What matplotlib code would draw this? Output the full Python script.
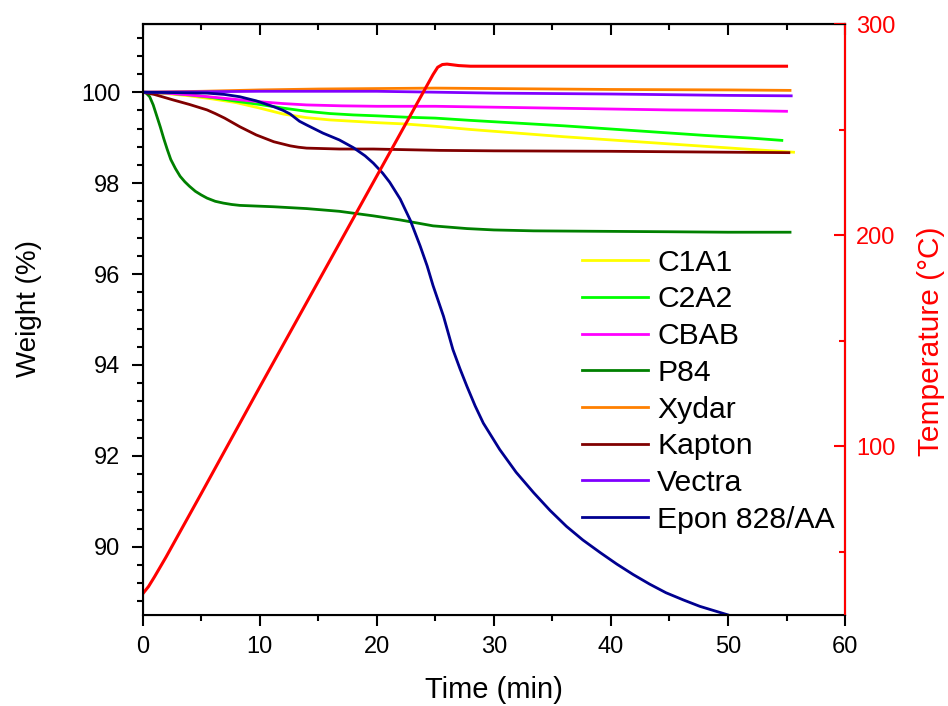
import numpy as np
import matplotlib
matplotlib.use("Agg")
import matplotlib.pyplot as plt
from matplotlib.ticker import MultipleLocator

plt.rcParams["font.family"] = ["Liberation Sans", "DejaVu Sans"]

# ---- data (time in min, weight in %) ---------------------------------------
t_c1a1 = [0, 2, 4, 6, 8, 10, 12, 14, 16, 18, 20, 22.5, 25, 28, 32, 36, 40, 44, 48, 52, 55.6]
w_c1a1 = [100, 99.97, 99.92, 99.85, 99.77, 99.65, 99.52, 99.44, 99.39, 99.36, 99.33,
          99.30, 99.25, 99.18, 99.10, 99.02, 98.95, 98.88, 98.81, 98.74, 98.68]

t_c2a2 = [0, 2, 4, 6, 8, 10, 12, 14, 16, 18, 20, 22.5, 25, 28, 32, 36, 40, 44, 48, 52, 54.6]
w_c2a2 = [100, 99.98, 99.94, 99.88, 99.80, 99.73, 99.65, 99.58, 99.53, 99.50, 99.48,
          99.45, 99.43, 99.38, 99.32, 99.26, 99.19, 99.12, 99.05, 98.99, 98.94]

t_cbab = [0, 2, 4, 6, 8, 10, 12, 14, 17, 20, 25, 30, 35, 40, 45, 50, 55]
w_cbab = [100, 99.98, 99.94, 99.89, 99.84, 99.79, 99.75, 99.72, 99.70, 99.69, 99.69,
          99.67, 99.65, 99.63, 99.61, 99.60, 99.58]

t_p84 = [0, 0.3, 0.6, 0.9, 1.2, 1.5, 1.8, 2.1, 2.4, 2.8, 3.2, 3.6, 4.0, 4.5, 5.0, 5.5,
         6.2, 6.9, 7.6, 8.3, 11.2, 14, 16.8, 19.7, 22, 24.8, 27.7, 30, 33.4, 39.1, 45,
         50, 55.3]
w_p84 = [100, 99.98, 99.9, 99.72, 99.48, 99.24, 98.98, 98.74, 98.52, 98.32, 98.15,
         98.03, 97.93, 97.82, 97.74, 97.67, 97.60, 97.56, 97.53, 97.51, 97.48, 97.44,
         97.38, 97.28, 97.19, 97.06, 97.00, 96.97, 96.95, 96.94, 96.93, 96.92, 96.92]

t_xydar = [0, 5, 10, 15, 20, 25, 30, 40, 50, 55.3]
w_xydar = [100, 100.02, 100.05, 100.07, 100.08, 100.09, 100.08, 100.06, 100.05, 100.04]

t_kapton = [0, 1, 2.6, 4, 5.5, 6.2, 7, 8.3, 9.7, 10.5, 11.2, 12.6, 13.3, 14, 16.8,
            19.7, 25.4, 30, 40, 50, 55.2]
w_kapton = [100, 99.95, 99.83, 99.73, 99.61, 99.53, 99.43, 99.24, 99.06, 98.98, 98.91,
            98.82, 98.79, 98.77, 98.75, 98.75, 98.72, 98.71, 98.70, 98.68, 98.67]

t_vectra = [0, 5, 10, 15, 20, 25, 30, 40, 50, 55.4]
w_vectra = [100, 100.01, 100.02, 100.02, 100.02, 100.0, 99.98, 99.96, 99.93, 99.92]

t_epon = [0, 3, 5.5, 7, 8.3, 9.7, 11.2, 12, 12.6, 13.4, 14, 15.4, 16.8, 18.0, 19.0,
          19.7, 20.5, 21.1, 22, 22.85, 23.7, 24.3, 24.8, 25.7, 26.5, 27.1, 27.7, 28.4,
          29.1, 30.5, 31.9, 33.4, 34.8, 36.2, 37.6, 39.1, 40.5, 41.9, 43.3, 44.7,
          46.2, 47.6, 49.9, 50.5]
w_epon = [100, 99.99, 99.98, 99.95, 99.90, 99.81, 99.68, 99.60, 99.52, 99.36, 99.28,
          99.10, 98.95, 98.78, 98.60, 98.44, 98.22, 98.02, 97.65, 97.19, 96.62, 96.18,
          95.75, 95.07, 94.34, 93.92, 93.53, 93.10, 92.72, 92.14, 91.64, 91.19, 90.80,
          90.45, 90.15, 89.87, 89.62, 89.39, 89.18, 88.99, 88.83, 88.69, 88.51, 88.46]

# furnace temperature programme (deg C)
t_temp = [0, 0.5, 1, 2, 3, 5, 10, 15, 20, 22, 24, 24.8, 25.2, 25.6, 26, 27, 28, 55]
temp = [30, 33.5, 38, 47.5, 57.5, 77.5, 128, 178, 228, 248, 268, 276, 279.5, 280.8,
        281, 280.3, 280, 280]

series = [
    ("C1A1", t_c1a1, w_c1a1, "#FFFF00"),
    ("C2A2", t_c2a2, w_c2a2, "#00FF00"),
    ("CBAB", t_cbab, w_cbab, "#FF00FF"),
    ("P84", t_p84, w_p84, "#008000"),
    ("Xydar", t_xydar, w_xydar, "#FF8000"),
    ("Kapton", t_kapton, w_kapton, "#800000"),
    ("Vectra", t_vectra, w_vectra, "#8000FF"),
    ("Epon 828/AA", t_epon, w_epon, "#000090"),
]

fig = plt.figure(figsize=(9.48, 7.06), dpi=100)
ax = fig.add_axes([0.1505, 0.1289, 0.7409, 0.8371])

for name, t, w, c in series:
    ax.plot(t, w, color=c, lw=2.0, label=name)

ax.set_xlim(0, 60)
ax.set_ylim(88.5, 101.5)
ax.xaxis.set_major_locator(MultipleLocator(10))
ax.xaxis.set_minor_locator(MultipleLocator(5))
ax.yaxis.set_major_locator(MultipleLocator(2))
ax.yaxis.set_minor_locator(MultipleLocator(0.4))
ax.tick_params(which="both", direction="out", width=1.5, labelsize=17, colors="black")
ax.tick_params(which="major", length=8)
ax.tick_params(which="minor", length=4.5)
ax.tick_params(axis="y", which="major", pad=8)
ax.tick_params(axis="x", which="major", pad=7)
ax.set_xlabel("Time (min)", fontsize=21)
ax.set_ylabel("Weight (%)", fontsize=20)
ax.xaxis.set_label_coords(0.5, -0.103)
ax.yaxis.set_label_coords(-0.1434, 0.5186)
for s in ax.spines.values():
    s.set_linewidth(1.5)

# inward ticks along the top edge
top = ax.secondary_xaxis("top")
top.xaxis.set_major_locator(MultipleLocator(10))
top.xaxis.set_minor_locator(MultipleLocator(5))
top.tick_params(which="both", direction="in", width=1.5, labeltop=False)
top.tick_params(which="major", length=8)
top.tick_params(which="minor", length=4.5)
top.spines["top"].set_linewidth(1.5)

ax2 = ax.twinx()
ax2.plot(t_temp, temp, color="red", lw=2.2)
ax2.set_ylim(20, 300)
ax2.yaxis.set_major_locator(MultipleLocator(100))
ax2.yaxis.set_minor_locator(MultipleLocator(50))
ax2.tick_params(which="both", direction="in", width=1.5, colors="red", labelsize=17, pad=8)
ax2.tick_params(which="major", length=8)
ax2.tick_params(which="minor", length=4)
ax2.spines["right"].set_color("red")
ax2.spines["right"].set_linewidth(1.5)
ax2.set_ylabel("Temperature (\u00b0C)", color="red", fontsize=21.5)
ax2.yaxis.set_label_coords(1.1025, 0.4636)

ax.legend(loc="upper left", bbox_to_anchor=(0.6255, 0.62), frameon=False,
          fontsize=21.7, borderpad=0, borderaxespad=0, handlelength=2.2,
          handletextpad=0.3, labelspacing=0.29)

fig.savefig("out.png", dpi=100)
